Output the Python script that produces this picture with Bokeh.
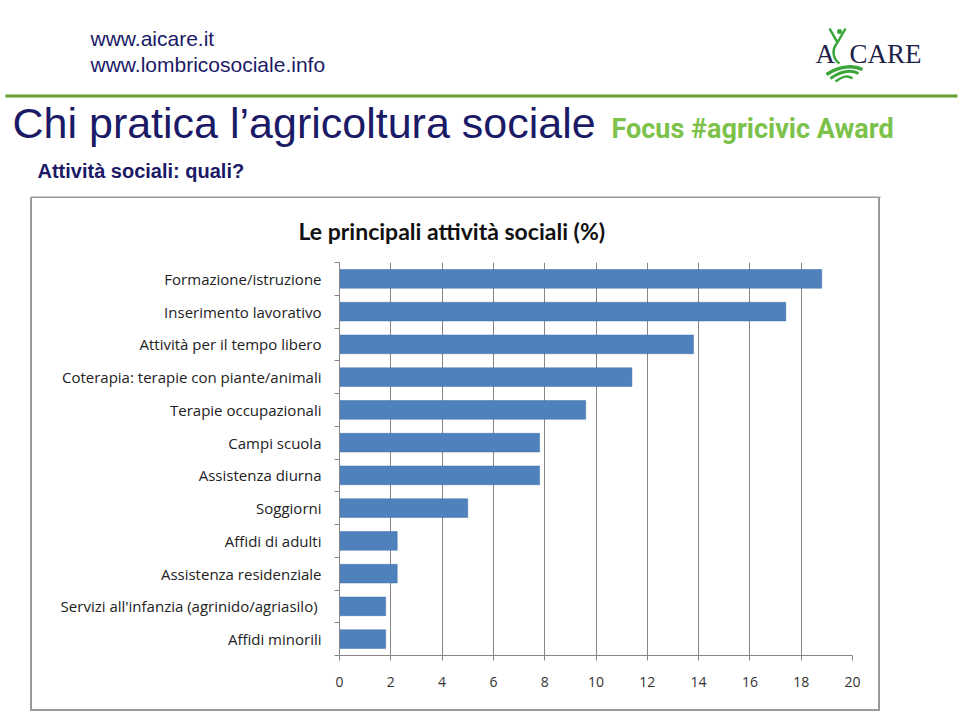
from bokeh.plotting import figure
from bokeh.models import Range1d, FixedTicker, Spacer
from bokeh.layouts import column, row
from bokeh.core.properties import value
from bokeh.embed import file_html
from bokeh.resources import INLINE

# ---- data ----
categories = [
    "Formazione/istruzione",
    "Inserimento lavorativo",
    "Attività per il tempo libero",
    "Coterapia: terapie con piante/animali",
    "Terapie occupazionali",
    "Campi scuola",
    "Assistenza diurna",
    "Soggiorni",
    "Affidi di adulti",
    "Assistenza residenziale",
    "Servizi all'infanzia  (agrinido/agriasilo)",
    "Affidi minorili",
]
values = [18.8, 17.4, 13.8, 11.4, 9.6, 7.8, 7.8, 5.0, 2.25, 2.25, 1.8, 1.8]
x_ticks = [0, 2, 4, 6, 8, 10, 12, 14, 16, 18, 20]
chart_title = "Le principali attività sociali (%)"

positions = list(range(1, len(categories) + 1))
boundaries = [q - 0.5 for q in positions] + [positions[-1] + 0.5]

NAVY = "#1b1a66"
GREEN = "#7cc24a"
LINE_GREEN = "#62a032"
LOGO_GREEN = "#3aa63a"
BOX_GREY = "#9a9a9a"
LABEL_FONT = "Lato"
CAT_FONT = "Open Sans"

# ---------------- header (pixel space, includes top edge of the chart box) ----------------
HW, HH = 960, 198
BOX_L, BOX_R, BOX_T = 30, 880, 196
hdr = figure(width=HW, height=HH, output_backend="svg", toolbar_location=None,
             x_range=Range1d(0, HW), y_range=Range1d(HH, 0),
             x_axis_type=None, y_axis_type=None, min_border=0, title=None)
hdr.outline_line_color = None
hdr.xgrid.grid_line_color = None
hdr.ygrid.grid_line_color = None

def htext(x, y, t, size, color, font="Liberation Sans", style="normal", align="left"):
    hdr.text(x=[x], y=[y], text=[t], text_font=value(font), text_font_size=size,
             text_color=color, text_font_style=style, text_align=align,
             text_baseline="middle")

htext(90, 38, "www.aicare.it", "21px", NAVY)
htext(90, 64, "www.lombricosociale.info", "21px", NAVY)
hdr.quad(left=[5], right=[957], top=[94], bottom=[97], fill_color=LINE_GREEN, line_color=None)
htext(12, 122, "Chi pratica l\u2019agricoltura sociale", "43px", NAVY)
htext(611, 128, "Focus #agricivic Award", "27px", GREEN, font="Roboto", style="bold")
htext(37, 170, "Attività sociali: quali?", "20px", NAVY, style="bold")

# logo
htext(815, 53, "A", "27px", "#1e2148", font="Liberation Serif")
htext(849, 53, "CARE", "27px", "#1e2148", font="Liberation Serif")
hdr.line(x=[829, 837, 845], y=[28, 42, 28], line_color=LOGO_GREEN, line_width=2.5)
hdr.circle(x=[839], y=[31], radius=2.5, fill_color=LOGO_GREEN, line_color=None)
hdr.bezier(x0=[837], y0=[42], x1=[839], y1=[63], cx0=[831], cy0=[49], cx1=[832], cy1=[58],
           line_color=LOGO_GREEN, line_width=2.5)
hdr.bezier(x0=[826, 830, 835], y0=[74, 78, 81], x1=[862, 858, 852], y1=[69, 73, 78],
           cx0=[838, 840, 842], cy0=[66, 71, 76], cx1=[852, 850, 847], cy1=[64, 69, 74],
           line_color=LOGO_GREEN, line_width=[3.5, 3, 2.5])

# top edge of the grey chart box
hdr.quad(left=[BOX_L], right=[BOX_R], top=[BOX_T], bottom=[HH],
         fill_color=BOX_GREY, line_color=None)

# ---------------- chart ----------------
CW, CH = BOX_R - BOX_L - 4, 511
p = figure(width=CW, height=CH, output_backend="svg", toolbar_location=None,
           x_range=Range1d(0, 20),
           y_range=Range1d(len(categories) + 0.5, 0.5),
           min_border_left=307, min_border_right=26,
           min_border_top=64, min_border_bottom=54)
p.title.text = chart_title
p.title.text_font = LABEL_FONT
p.title.text_font_size = "23px"
p.title.text_font_style = "bold"
p.title.text_color = "#111111"
p.title.align = "left"
p.title.offset = -41
p.title.vertical_align = "top"
p.title.standoff = 32
p.outline_line_color = None
p.background_fill_color = "white"
p.border_fill_color = "white"

p.hbar(y=positions, right=values, left=0, height=0.57,
       fill_color="#4f81bd", line_color="#3f6fa8", line_width=0.5)

# x axis
p.xaxis.ticker = FixedTicker(ticks=x_ticks)
p.xaxis.axis_line_color = "#868686"
p.xaxis.major_tick_line_color = "#868686"
p.xaxis.major_tick_out = 5
p.xaxis.major_tick_in = 0
p.xaxis.minor_tick_line_color = None
p.xaxis.major_label_text_font = CAT_FONT
p.xaxis.major_label_text_font_size = "14px"
p.xaxis.major_label_text_color = "#333333"
p.xaxis.major_label_standoff = 16

p.xgrid.ticker = FixedTicker(ticks=x_ticks)
p.xgrid.grid_line_color = "#868686"
p.xgrid.grid_line_width = 1
p.ygrid.grid_line_color = None

# y axis: labels at centers, ticks at category boundaries
p.yaxis.ticker = FixedTicker(ticks=positions, minor_ticks=boundaries)
p.yaxis.major_label_overrides = {q: c for q, c in zip(positions, categories)}
p.yaxis.axis_line_color = "#868686"
p.yaxis.major_tick_line_color = None
p.yaxis.major_tick_out = 0
p.yaxis.major_tick_in = 0
p.yaxis.minor_tick_line_color = "#868686"
p.yaxis.minor_tick_out = 5
p.yaxis.minor_tick_in = 0
p.yaxis.major_label_text_font = CAT_FONT
p.yaxis.major_label_text_font_size = "15px"
p.yaxis.major_label_text_color = "#222222"
p.yaxis.major_label_standoff = 13

# remaining sides of the grey frame, built from thin coloured spacers
def bar(w, h):
    return Spacer(width=w, height=h, styles={"background-color": BOX_GREY})

framed = column(row(bar(2, CH), p, bar(2, CH)),
                bar(CW + 4, 2))

layout = column(hdr, row(Spacer(width=BOX_L, height=CH + 2), framed))

open("out.html", "w").write(file_html(layout, INLINE))
